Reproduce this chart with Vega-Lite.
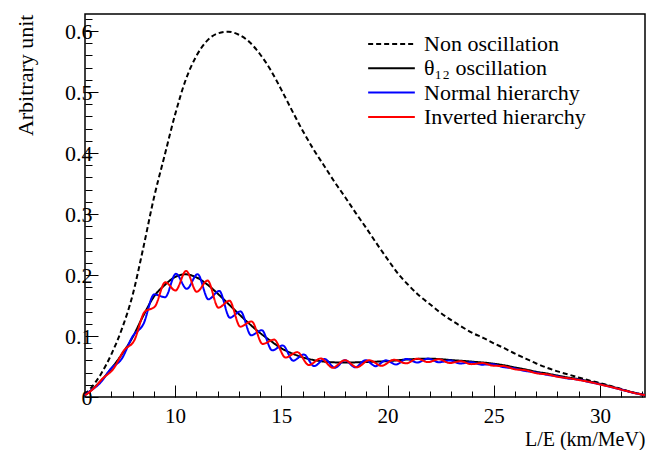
{
  "$schema": "https://vega.github.io/schema/vega-lite/v6.json",
  "width": 560,
  "height": 383,
  "autosize": {"type": "none"},
  "padding": {"left": 85, "top": 14, "right": 21, "bottom": 53},
  "background": "white",
  "config": {"view": {"stroke": "black", "strokeWidth": 1.5}, "font": "Liberation Serif"},
  "data": {"values": [
    {"s":"D","x":5.76,"y":0.004},{"s":"D","x":6,"y":0.013},{"s":"D","x":6.5,"y":0.037},{"s":"D","x":7,"y":0.070},{"s":"D","x":7.5,"y":0.112},{"s":"D","x":8,"y":0.167},{"s":"D","x":8.5,"y":0.244},{"s":"D","x":9,"y":0.326},{"s":"D","x":9.5,"y":0.395},{"s":"D","x":10,"y":0.463},{"s":"D","x":10.5,"y":0.520},{"s":"D","x":11,"y":0.559},{"s":"D","x":11.5,"y":0.584},{"s":"D","x":12,"y":0.596},{"s":"D","x":12.5,"y":0.599},{"s":"D","x":13,"y":0.594},{"s":"D","x":13.5,"y":0.582},{"s":"D","x":14,"y":0.562},{"s":"D","x":14.5,"y":0.536},{"s":"D","x":15,"y":0.504},{"s":"D","x":15.5,"y":0.470},{"s":"D","x":16,"y":0.437},{"s":"D","x":16.5,"y":0.407},{"s":"D","x":17,"y":0.380},{"s":"D","x":17.5,"y":0.353},{"s":"D","x":18,"y":0.328},{"s":"D","x":18.5,"y":0.302},{"s":"D","x":19,"y":0.277},{"s":"D","x":19.5,"y":0.251},{"s":"D","x":20,"y":0.226},{"s":"D","x":20.5,"y":0.202},{"s":"D","x":21,"y":0.183},{"s":"D","x":21.5,"y":0.166},{"s":"D","x":22,"y":0.152},{"s":"D","x":22.5,"y":0.138},{"s":"D","x":23,"y":0.126},{"s":"D","x":23.5,"y":0.115},{"s":"D","x":24,"y":0.105},{"s":"D","x":24.5,"y":0.097},{"s":"D","x":25,"y":0.088},{"s":"D","x":25.5,"y":0.080},{"s":"D","x":26,"y":0.071},{"s":"D","x":26.5,"y":0.063},{"s":"D","x":27,"y":0.055},{"s":"D","x":27.5,"y":0.048},{"s":"D","x":28,"y":0.042},{"s":"D","x":28.5,"y":0.037},{"s":"D","x":29,"y":0.032},{"s":"D","x":29.5,"y":0.027},{"s":"D","x":30,"y":0.023},{"s":"D","x":30.5,"y":0.018},{"s":"D","x":31,"y":0.013},{"s":"D","x":31.5,"y":0.008},{"s":"D","x":32,"y":0.004},{"s":"D","x":32.12,"y":0.003},
    {"s":"T","x":5.76,"y":0.003},{"s":"T","x":6,"y":0.0097},{"s":"T","x":6.5,"y":0.0262},{"s":"T","x":7,"y":0.0468},{"s":"T","x":7.5,"y":0.0703},{"s":"T","x":8,"y":0.0979},{"s":"T","x":8.5,"y":0.1330},{"s":"T","x":9,"y":0.1644},{"s":"T","x":9.5,"y":0.1832},{"s":"T","x":10,"y":0.1967},{"s":"T","x":10.5,"y":0.2012},{"s":"T","x":11,"y":0.1962},{"s":"T","x":11.5,"y":0.1849},{"s":"T","x":12,"y":0.1697},{"s":"T","x":12.5,"y":0.1530},{"s":"T","x":13,"y":0.1361},{"s":"T","x":13.5,"y":0.1199},{"s":"T","x":14,"y":0.1050},{"s":"T","x":14.5,"y":0.0920},{"s":"T","x":15,"y":0.0800},{"s":"T","x":15.5,"y":0.0715},{"s":"T","x":16,"y":0.0652},{"s":"T","x":16.5,"y":0.0608},{"s":"T","x":17,"y":0.0581},{"s":"T","x":17.5,"y":0.0568},{"s":"T","x":18,"y":0.0565},{"s":"T","x":18.5,"y":0.0568},{"s":"T","x":19,"y":0.0574},{"s":"T","x":19.5,"y":0.0580},{"s":"T","x":20,"y":0.0588},{"s":"T","x":20.5,"y":0.0603},{"s":"T","x":21,"y":0.0617},{"s":"T","x":21.5,"y":0.0626},{"s":"T","x":22,"y":0.0628},{"s":"T","x":22.5,"y":0.0620},{"s":"T","x":23,"y":0.0605},{"s":"T","x":23.5,"y":0.0593},{"s":"T","x":24,"y":0.0579},{"s":"T","x":24.5,"y":0.0565},{"s":"T","x":25,"y":0.0546},{"s":"T","x":25.5,"y":0.0519},{"s":"T","x":26,"y":0.0484},{"s":"T","x":26.5,"y":0.0451},{"s":"T","x":27,"y":0.0414},{"s":"T","x":27.5,"y":0.0385},{"s":"T","x":28,"y":0.0351},{"s":"T","x":28.5,"y":0.0320},{"s":"T","x":29,"y":0.0293},{"s":"T","x":29.5,"y":0.0256},{"s":"T","x":30,"y":0.0217},{"s":"T","x":30.5,"y":0.0173},{"s":"T","x":31,"y":0.0127},{"s":"T","x":31.5,"y":0.0079},{"s":"T","x":32,"y":0.0040},{"s":"T","x":32.12,"y":0.0030},
    {"s":"N","x":5.76,"y":0.003},{"s":"N","x":5.96,"y":0.0087},{"s":"N","x":6.47,"y":0.0228},{"s":"N","x":6.98,"y":0.0464},{"s":"N","x":7.49,"y":0.0627},{"s":"N","x":8.0,"y":0.0993},{"s":"N","x":8.51,"y":0.1196},{"s":"N","x":9.02,"y":0.1683},{"s":"N","x":9.53,"y":0.1636},{"s":"N","x":10.04,"y":0.2021},{"s":"N","x":10.55,"y":0.1773},{"s":"N","x":11.06,"y":0.2014},{"s":"N","x":11.57,"y":0.1602},{"s":"N","x":12.08,"y":0.1738},{"s":"N","x":12.58,"y":0.1301},{"s":"N","x":13.08,"y":0.1404},{"s":"N","x":13.58,"y":0.1012},{"s":"N","x":14.08,"y":0.1096},{"s":"N","x":14.57,"y":0.0765},{"s":"N","x":15.07,"y":0.0846},{"s":"N","x":15.56,"y":0.0596},{"s":"N","x":16.06,"y":0.0697},{"s":"N","x":16.55,"y":0.0507},{"s":"N","x":17.04,"y":0.0623},{"s":"N","x":17.52,"y":0.0479},{"s":"N","x":18.0,"y":0.0603},{"s":"N","x":18.48,"y":0.0486},{"s":"N","x":18.96,"y":0.0604},{"s":"N","x":19.44,"y":0.0506},{"s":"N","x":19.92,"y":0.0601},{"s":"N","x":20.4,"y":0.0533},{"s":"N","x":20.9,"y":0.0625},{"s":"N","x":21.4,"y":0.0565},{"s":"N","x":21.91,"y":0.0630},{"s":"N","x":22.42,"y":0.0569},{"s":"N","x":22.93,"y":0.0599},{"s":"N","x":23.43,"y":0.0550},{"s":"N","x":23.93,"y":0.0570},{"s":"N","x":24.44,"y":0.0530},{"s":"N","x":24.94,"y":0.0537},{"s":"N","x":25.45,"y":0.0490},{"s":"N","x":25.95,"y":0.0472},{"s":"N","x":26.46,"y":0.0428},{"s":"N","x":26.96,"y":0.0403},{"s":"N","x":27.47,"y":0.0366},{"s":"N","x":27.97,"y":0.0340},{"s":"N","x":28.48,"y":0.0304},{"s":"N","x":28.98,"y":0.0285},{"s":"N","x":29.49,"y":0.0245},{"s":"N","x":29.99,"y":0.0209},{"s":"N","x":30.5,"y":0.0164},{"s":"N","x":31.0,"y":0.0122},{"s":"N","x":31.51,"y":0.0075},{"s":"N","x":32.0,"y":0.0038},{"s":"N","x":32.12,"y":0.0029},
    {"s":"I","x":5.76,"y":0.003},{"s":"I","x":6.1,"y":0.0117},{"s":"I","x":6.6,"y":0.0305},{"s":"I","x":7.1,"y":0.0463},{"s":"I","x":7.59,"y":0.0762},{"s":"I","x":8.08,"y":0.0928},{"s":"I","x":8.57,"y":0.1397},{"s":"I","x":9.05,"y":0.1483},{"s":"I","x":9.54,"y":0.1882},{"s":"I","x":10.02,"y":0.1746},{"s":"I","x":10.52,"y":0.2068},{"s":"I","x":11.02,"y":0.1725},{"s":"I","x":11.53,"y":0.1909},{"s":"I","x":12.04,"y":0.1465},{"s":"I","x":12.56,"y":0.1578},{"s":"I","x":13.07,"y":0.1153},{"s":"I","x":13.6,"y":0.1240},{"s":"I","x":14.12,"y":0.0870},{"s":"I","x":14.66,"y":0.0941},{"s":"I","x":15.2,"y":0.0647},{"s":"I","x":15.75,"y":0.0736},{"s":"I","x":16.3,"y":0.0525},{"s":"I","x":16.86,"y":0.0632},{"s":"I","x":17.42,"y":0.0480},{"s":"I","x":17.99,"y":0.0603},{"s":"I","x":18.56,"y":0.0488},{"s":"I","x":19.14,"y":0.0604},{"s":"I","x":19.72,"y":0.0511},{"s":"I","x":20.3,"y":0.0610},{"s":"I","x":20.88,"y":0.0552},{"s":"I","x":21.4,"y":0.0629},{"s":"I","x":21.91,"y":0.0572},{"s":"I","x":22.42,"y":0.0619},{"s":"I","x":22.93,"y":0.0557},{"s":"I","x":23.44,"y":0.0586},{"s":"I","x":23.95,"y":0.0539},{"s":"I","x":24.46,"y":0.0556},{"s":"I","x":24.97,"y":0.0514},{"s":"I","x":25.48,"y":0.0506},{"s":"I","x":25.99,"y":0.0455},{"s":"I","x":26.5,"y":0.0438},{"s":"I","x":27.01,"y":0.0389},{"s":"I","x":27.52,"y":0.0371},{"s":"I","x":28.03,"y":0.0330},{"s":"I","x":28.54,"y":0.0307},{"s":"I","x":29.05,"y":0.0276},{"s":"I","x":29.56,"y":0.0243},{"s":"I","x":30.07,"y":0.0200},{"s":"I","x":30.58,"y":0.0159},{"s":"I","x":31.09,"y":0.0112},{"s":"I","x":31.6,"y":0.0068},{"s":"I","x":32.0,"y":0.0038},{"s":"I","x":32.12,"y":0.0029}
  ]},
  "mark": {"type": "line", "interpolate": "monotone", "strokeWidth": 2},
  "encoding": {
    "x": {
      "field": "x", "type": "quantitative",
      "scale": {"domain": [5.76, 32.12], "nice": false, "zero": false},
      "axis": {
        "values": [6,7,8,9,10,11,12,13,14,15,16,17,18,19,20,21,22,23,24,25,26,27,28,29,30,31,32],
        "labelExpr": "datum.value % 5 === 0 ? datum.label : ''",
        "tickSize": {"condition": {"test": "datum.value % 5 === 0", "value": -12}, "value": -6},
        "tickColor": "black", "tickWidth": 1,
        "domain": false, "grid": false,
        "labelFont": "Liberation Serif", "labelFontSize": 21, "labelColor": "black",
        "labelPadding": 20, "labelFlush": false, "labelOverlap": false,
        "title": "L/E (km/MeV)", "titleFont": "Liberation Serif", "titleFontSize": 20, "titleFontWeight": "normal", "titleColor": "black",
        "titleX": 560, "titleY": 48, "titleAlign": "right", "titleBaseline": "alphabetic"
      }
    },
    "y": {
      "field": "y", "type": "quantitative",
      "scale": {"domain": [0, 0.628], "nice": false, "zero": true},
      "axis": {
        "values": [0,0.02,0.04,0.06,0.08,0.1,0.12,0.14,0.16,0.18,0.2,0.22,0.24,0.26,0.28,0.3,0.32,0.34,0.36,0.38,0.4,0.42,0.44,0.46,0.48,0.5,0.52,0.54,0.56,0.58,0.6,0.62],
        "format": ".1~f",
        "labelExpr": "round(datum.value * 50) % 5 === 0 ? datum.label : ''",
        "tickSize": {"condition": {"test": "round(datum.value * 50) % 5 === 0", "value": -13}, "value": -7},
        "tickColor": "black", "tickWidth": 1,
        "domain": false, "grid": false,
        "labelFont": "Liberation Serif", "labelFontSize": 22, "labelColor": "black",
        "labelPadding": 6, "labelFlush": false, "labelOverlap": false,
        "title": "Arbitrary unit", "titleFont": "Liberation Serif", "titleFontSize": 22, "titleFontWeight": "normal", "titleColor": "black",
        "titleX": -53, "titleY": 0, "titleAngle": -90, "titleAlign": "right", "titleBaseline": "alphabetic"
      }
    },
    "color": {
      "field": "s", "type": "nominal",
      "scale": {"domain": ["D", "T", "N", "I"], "range": ["#000000", "#000000", "#0000ff", "#ff0000"]},
      "legend": {
        "orient": "none", "legendX": 282, "legendY": 20, "title": null,
        "symbolType": "stroke", "symbolSize": 2180, "symbolStrokeWidth": 2,
        "labelFont": "Liberation Serif", "labelFontSize": 22, "labelColor": "black", "labelOffset": 8, "labelLimit": 400,
        "clipHeight": 20, "rowPadding": 2.3,
        "labelExpr": "datum.value === 'D' ? 'Non oscillation' : datum.value === 'T' ? 'θ₁₂ oscillation' : datum.value === 'N' ? 'Normal hierarchy' : 'Inverted hierarchy'"
      }
    },
    "strokeDash": {
      "field": "s", "type": "nominal",
      "scale": {"domain": ["D", "T", "N", "I"], "range": [[5, 3], [1, 0], [1, 0], [1, 0]]},
      "legend": {
        "orient": "none", "legendX": 282, "legendY": 20, "title": null,
        "symbolType": "stroke", "symbolSize": 2180, "symbolStrokeWidth": 2,
        "labelFont": "Liberation Serif", "labelFontSize": 22, "labelColor": "black", "labelOffset": 8, "labelLimit": 400,
        "clipHeight": 20, "rowPadding": 2.3,
        "labelExpr": "datum.value === 'D' ? 'Non oscillation' : datum.value === 'T' ? 'θ₁₂ oscillation' : datum.value === 'N' ? 'Normal hierarchy' : 'Inverted hierarchy'"
      }
    }
  }
}
